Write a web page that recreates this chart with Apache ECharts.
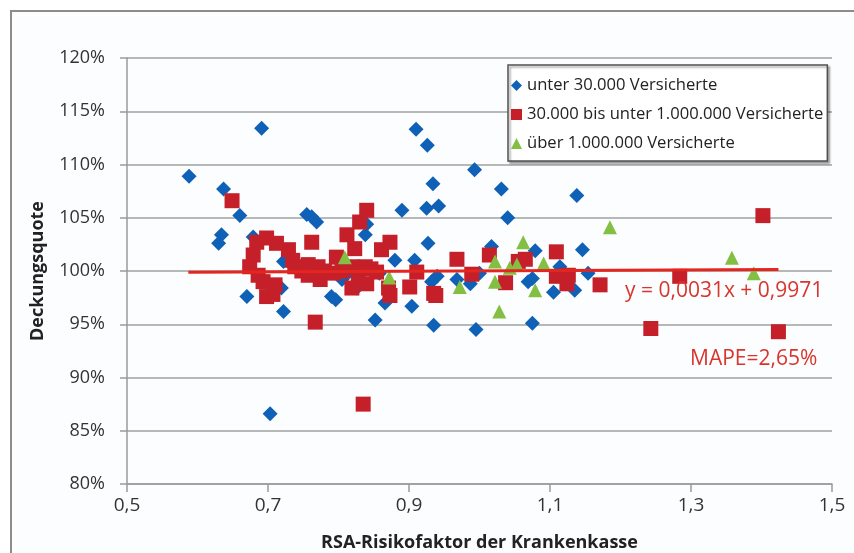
<!DOCTYPE html>
<html>
<head>
<meta charset="utf-8">
<title>Deckungsquote</title>
<script src="https://cdn.jsdelivr.net/npm/echarts@6/dist/echarts.min.js"></script>
<style>
html, body { margin: 0; padding: 0; background: #fff; }
#chart { width: 854px; height: 553px; }
</style>
</head>
<body>
<div id="chart"></div>
<script>
// Krankenkassen: [RSA-Risikofaktor, Deckungsquote]
var klein = [
	[0.588, 1.089], [0.637, 1.077], [0.634, 1.034], [0.630, 1.026], [0.660, 1.052],
	[0.670, 0.976], [0.679, 1.032], [0.691, 1.134], [0.703, 0.866], [0.719, 0.984],
	[0.722, 0.962], [0.722, 1.009], [0.755, 1.053], [0.762, 1.051], [0.769, 1.046],
	[0.790, 0.976], [0.796, 0.973], [0.805, 0.992], [0.838, 1.034], [0.840, 1.044],
	[0.852, 0.954], [0.866, 0.970], [0.880, 1.010], [0.890, 1.057], [0.904, 0.967],
	[0.908, 1.010], [0.910, 1.133], [0.926, 1.118], [0.925, 1.059], [0.927, 1.026],
	[0.934, 1.082], [0.935, 0.949], [0.942, 1.061], [0.932, 0.990], [0.940, 0.995],
	[0.968, 0.992], [0.987, 0.988], [0.993, 1.095], [0.995, 0.945], [1.000, 0.998],
	[1.017, 1.023], [1.031, 1.077], [1.040, 1.050], [1.069, 0.990], [1.075, 0.993],
	[1.075, 0.951], [1.079, 1.019], [1.105, 0.980], [1.114, 1.004], [1.135, 0.982],
	[1.138, 1.071], [1.146, 1.020], [1.154, 0.998], [0.745, 1.004], [0.815, 0.999],
	[0.858, 0.998], [0.826, 0.984]
];
var mittel = [
	[0.649, 1.066], [0.684, 1.027], [0.698, 1.031], [0.712, 1.026], [0.729, 1.020],
	[0.679, 1.015], [0.674, 1.004], [0.686, 0.996], [0.693, 0.990], [0.710, 0.987],
	[0.698, 0.976], [0.707, 0.978], [0.738, 1.004], [0.748, 1.000], [0.757, 1.006],
	[0.757, 0.996], [0.762, 1.027], [0.767, 0.952], [0.771, 1.004], [0.774, 0.992],
	[0.780, 1.000], [0.797, 1.013], [0.812, 1.034], [0.823, 1.021], [0.830, 1.046],
	[0.840, 1.057], [0.819, 1.004], [0.838, 1.004], [0.854, 0.999], [0.819, 0.984],
	[0.840, 0.988], [0.828, 0.995], [0.846, 1.002], [0.861, 1.020], [0.873, 1.027],
	[0.871, 0.984], [0.873, 0.977], [0.835, 0.875], [0.911, 0.999], [0.901, 0.985],
	[0.935, 0.979], [0.938, 0.977], [0.968, 1.011], [0.989, 0.997], [1.014, 1.015],
	[1.037, 0.989], [1.055, 1.009], [1.065, 1.011], [1.109, 1.018], [1.109, 0.995],
	[1.124, 0.988], [1.126, 0.996], [1.171, 0.987], [1.243, 0.946], [1.284, 0.995],
	[1.402, 1.052], [1.424, 0.943], [0.735, 1.010], [0.793, 0.998], [0.805, 1.000]
];
var gross = [
	[0.809, 1.013], [0.872, 0.994], [0.972, 0.985], [1.022, 1.009], [1.022, 0.990],
	[1.028, 0.962], [1.043, 1.003], [1.053, 1.006], [1.062, 1.027], [1.079, 0.982],
	[1.091, 1.007], [1.185, 1.041], [1.358, 1.0125], [1.389, 0.998]
];
var trend = [[0.587, 0.9989], [1.424, 1.0015]];

var namen = [
	'unter 30.000 Versicherte',
	'30.000 bis unter 1.000.000 Versicherte',
	'über 1.000.000 Versicherte'
];

var FONT = '"Open Sans", "DejaVu Sans", sans-serif';

var myChart = echarts.init(document.getElementById('chart'));
var option = {
	animation: false,
	backgroundColor: '#ffffff',
	textStyle: { fontFamily: FONT },
	grid: { left: 127, right: 22, top: 58, bottom: 69, outerBoundsMode: 'none', containLabel: false },
	graphic: [
		{
			type: 'rect', z: -10, silent: true,
			shape: { x: 11, y: 11, width: 880, height: 580 },
			style: { fill: '#fcfdfe', stroke: '#8c8c8c', lineWidth: 2 }
		},
		{
			type: 'text', left: 625, top: 281, z: 20,
			style: { text: 'y = 0,0031x + 0,9971', fill: '#d8352c', font: '21px ' + FONT }
		},
		{
			type: 'text', left: 690, top: 349, z: 20,
			style: { text: 'MAPE=2,65%', fill: '#d8352c', font: '21px ' + FONT }
		}
	],
	legend: {
		orient: 'vertical',
		left: 508,
		top: 65,
		padding: [12, 4, 9, 3],
		itemGap: 12,
		itemWidth: 11,
		itemHeight: 11,
		backgroundColor: '#ffffff',
		borderColor: '#505050',
		borderWidth: 1.5,
		shadowColor: 'rgba(0,0,0,0.35)',
		shadowBlur: 2,
		shadowOffsetX: 2,
		shadowOffsetY: 2,
		textStyle: { fontSize: 16.6, color: '#222', fontFamily: FONT },
		data: namen
	},
	xAxis: {
		type: 'value',
		min: 0.5,
		max: 1.5,
		interval: 0.2,
		name: 'RSA-Risikofaktor der Krankenkasse',
		nameLocation: 'middle',
		nameGap: 50,
		nameTextStyle: { fontSize: 18, fontWeight: 'bold', color: '#222' },
		axisLine: { show: true, onZero: false, lineStyle: { color: '#9a9a9a', width: 1.5 } },
		axisTick: { show: true, length: 8, lineStyle: { color: '#9a9a9a', width: 1.5 } },
		axisLabel: {
			fontSize: 19, color: '#333', margin: 12,
			formatter: function (v) { return v.toFixed(1).replace('.', ','); }
		},
		splitLine: { show: false }
	},
	yAxis: {
		type: 'value',
		min: 0.8,
		max: 1.2,
		interval: 0.05,
		name: 'Deckungsquote',
		nameLocation: 'middle',
		nameGap: 80,
		nameTextStyle: { fontSize: 18, fontWeight: 'bold', color: '#222' },
		axisLine: { show: true, lineStyle: { color: '#9a9a9a', width: 1.5 } },
		axisTick: { show: true, length: 7, lineStyle: { color: '#9a9a9a', width: 1.5 } },
		axisLabel: {
			fontSize: 18, color: '#333', margin: 22,
			formatter: function (v) { return Math.round(v * 100) + '%'; }
		},
		splitLine: { show: true, lineStyle: { color: '#a0a0a0', width: 1.5 } }
	},
	series: [
		{
			name: namen[0],
			type: 'scatter',
			symbol: 'diamond',
			symbolSize: 15,
			itemStyle: { color: '#0e61b6', opacity: 1 },
			data: klein,
			z: 2
		},
		{
			name: namen[1],
			type: 'scatter',
			symbol: 'rect',
			symbolSize: 15,
			itemStyle: { color: '#c5202a', opacity: 1 },
			data: mittel,
			z: 3
		},
		{
			name: namen[2],
			type: 'scatter',
			symbol: 'triangle',
			symbolSize: 14,
			itemStyle: { color: '#82bf42', opacity: 1 },
			data: gross,
			z: 4
		},
		{
			name: 'Trend',
			type: 'line',
			data: trend,
			symbol: 'none',
			lineStyle: { color: '#e5261e', width: 3 },
			z: 5,
			silent: true
		}
	]
};
myChart.setOption(option);
</script>
</body>
</html>
